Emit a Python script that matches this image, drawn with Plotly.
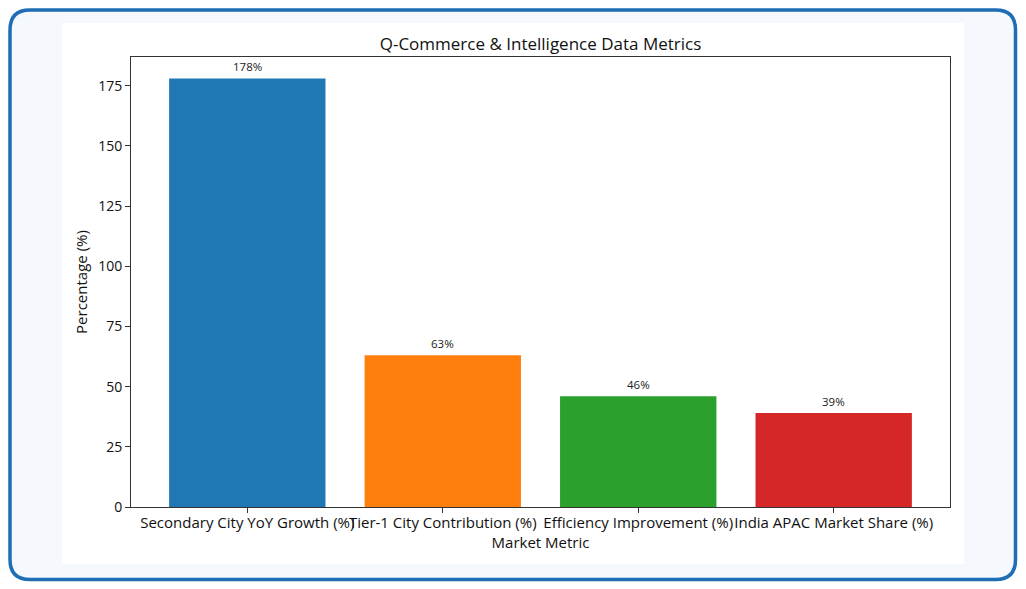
import plotly.graph_objects as go

categories = ["Secondary City YoY Growth (%)", "Tier-1 City Contribution (%)",
              "Efficiency Improvement (%)", "India APAC Market Share (%)"]
values = [178, 63, 46, 39]
bar_colors = ["#1f77b4", "#ff7f0e", "#2ca02c", "#d62728"]
y_ticks = [0, 25, 50, 75, 100, 125, 150, 175]

W, H = 1026, 589
L, R, T, B = 131, 950, 57, 507

def px(x):
    return (x - L) / (R - L)

def py(y):
    return (B - y) / (B - T)

FONT = "Open Sans"

fig = go.Figure()
fig.add_trace(go.Bar(x=categories, y=values, marker=dict(color=bar_colors, line=dict(width=0)),
                     width=0.8, showlegend=False, hoverinfo="x+y"))

for c, v in zip(categories, values):
    fig.add_annotation(x=c, y=v, text=f"{v}%", showarrow=False, yanchor="bottom",
                       yshift=2, font=dict(family=FONT, size=11.5, color="#222"))

# outer rounded border
x0, x1, y0, y1, r = 10, 1015.5, 10, 579.5, 20
path = (f"M {px(x0+r)},{py(y0)} L {px(x1-r)},{py(y0)} Q {px(x1)},{py(y0)} {px(x1)},{py(y0+r)} "
        f"L {px(x1)},{py(y1-r)} Q {px(x1)},{py(y1)} {px(x1-r)},{py(y1)} "
        f"L {px(x0+r)},{py(y1)} Q {px(x0)},{py(y1)} {px(x0)},{py(y1-r)} "
        f"L {px(x0)},{py(y0+r)} Q {px(x0)},{py(y0)} {px(x0+r)},{py(y0)} Z")
fig.add_shape(type="path", path=path, xref="paper", yref="paper", layer="below",
              fillcolor="#f5f8fc", line=dict(color="#1f6db4", width=3.5))
fig.add_shape(type="rect", xref="paper", yref="paper", layer="below",
              x0=px(62), x1=px(964), y0=py(564), y1=py(23),
              fillcolor="#ffffff", line=dict(width=0))

fig.update_layout(
    width=W, height=H,
    margin=dict(l=L, r=W - R, t=T, b=H - B, pad=0),
    paper_bgcolor="#ffffff", plot_bgcolor="#ffffff",
    font=dict(family=FONT, size=14, color="#111"),
    title=dict(text="Q-Commerce & Intelligence Data Metrics", x=px(540.5), xref="paper",
               xanchor="center", y=1 - 44 / H, yref="container", yanchor="middle",
               font=dict(family=FONT, size=17, color="#111")),
    bargap=0.2,
)
fig.update_xaxes(range=[-0.595, 3.595], showline=True, linecolor="#333", linewidth=1, mirror=True,
                 ticks="outside", ticklen=5, tickcolor="#333", tickangle=0, ticklabelstandoff=-3,
                 tickfont=dict(size=15, color="#111"), showgrid=False,
                 title=dict(text="Market Metric", standoff=0, font=dict(size=15, color="#111")))
fig.update_yaxes(range=[0, 186.9], tickvals=y_ticks, showline=True, linecolor="#333", linewidth=1,
                 mirror=True, ticks="outside", ticklen=5, tickcolor="#333", showgrid=False,
                 zeroline=False, tickfont=dict(size=14, color="#111"),
                 title=dict(text="Percentage (%)", standoff=6, font=dict(size=15, color="#111")))

fig.write_html("out.html")
